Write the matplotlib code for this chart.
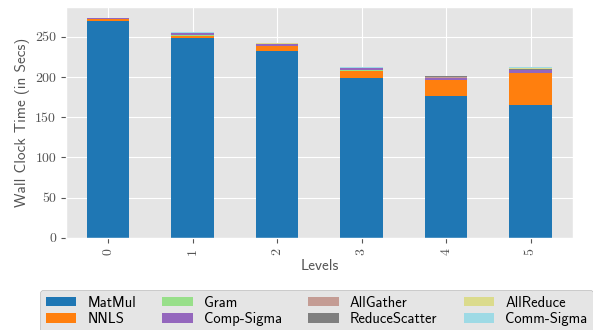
import matplotlib
matplotlib.use('Agg')
import matplotlib.pyplot as plt
import numpy as np

plt.style.use('ggplot')

# ── Data: wall clock time per level, split by phase ────────────────
levels = ['0', '1', '2', '3', '4', '5']
phases = ['MatMul', 'NNLS', 'Gram', 'Comp-Sigma',
          'AllGather', 'ReduceScatter', 'AllReduce', 'Comm-Sigma']
matmul        = [270.0, 249.0, 233.0, 198.5, 176.0, 165.0]
nnls          = [2.0, 2.5, 5.0, 9.5, 20.0, 39.5]
gram          = [0.3, 0.3, 0.3, 0.3, 0.3, 0.8]
comp_sigma    = [0.5, 2.5, 2.5, 2.5, 3.0, 3.5]
allgather     = [0.2, 0.3, 0.3, 0.3, 0.5, 0.5]
reducescatter = [0.3, 0.5, 0.6, 0.3, 1.2, 0.3]
allreduce     = [0.1, 0.2, 0.2, 0.3, 0.3, 1.5]
comm_sigma    = [0.1, 0.3, 0.8, 1.0, 0.3, 0.8]
series = [matmul, nnls, gram, comp_sigma,
          allgather, reducescatter, allreduce, comm_sigma]
colors = ['#1f77b4', '#ff7f0e', '#98df8a', '#9467bd',
          '#c49c94', '#7f7f7f', '#dbdb8d', '#9edae5']

fig = plt.figure(figsize=(5.93, 3.30), dpi=100)
ax = fig.add_axes([0.111, 0.279, 0.855, 0.700])

x = np.arange(len(levels))
bottom = np.zeros(len(levels))
for name, vals, c in zip(phases, series, colors):
    ax.bar(x, vals, width=0.5, bottom=bottom, color=c, label=name)
    bottom += np.array(vals)

ax.set_xlim(-0.5, 5.5)
ax.set_xticks(x)
ax.set_xticklabels(levels, rotation=90, family='cmr10', fontsize=10)
ax.set_yticks([0, 50, 100, 150, 200, 250])
ax.set_yticklabels(['0', '50', '100', '150', '200', '250'], family='cmr10', fontsize=10)
ax.set_xlabel('Levels', family='cmss10', fontsize=11, color='#555555', labelpad=3)
ax.set_ylabel('Wall Clock Time (in Secs)', family='cmss10', fontsize=11, color='#555555')

# legend sits under the axes, wider than the figure
leg = fig.legend(loc='upper left', bbox_to_anchor=(40 / 593, 1 - 290 / 330),
                 ncol=4, prop={'family': 'cmss10', 'size': 10.5},
                 facecolor='#e5e5e5', edgecolor='#bbbbbb', framealpha=1,
                 handlelength=2.1, handleheight=0.6, labelspacing=0.15,
                 handletextpad=0.75, columnspacing=1.8, borderpad=0.4,
                 borderaxespad=0, fancybox=True)

fig.savefig('out.png', dpi=100)
